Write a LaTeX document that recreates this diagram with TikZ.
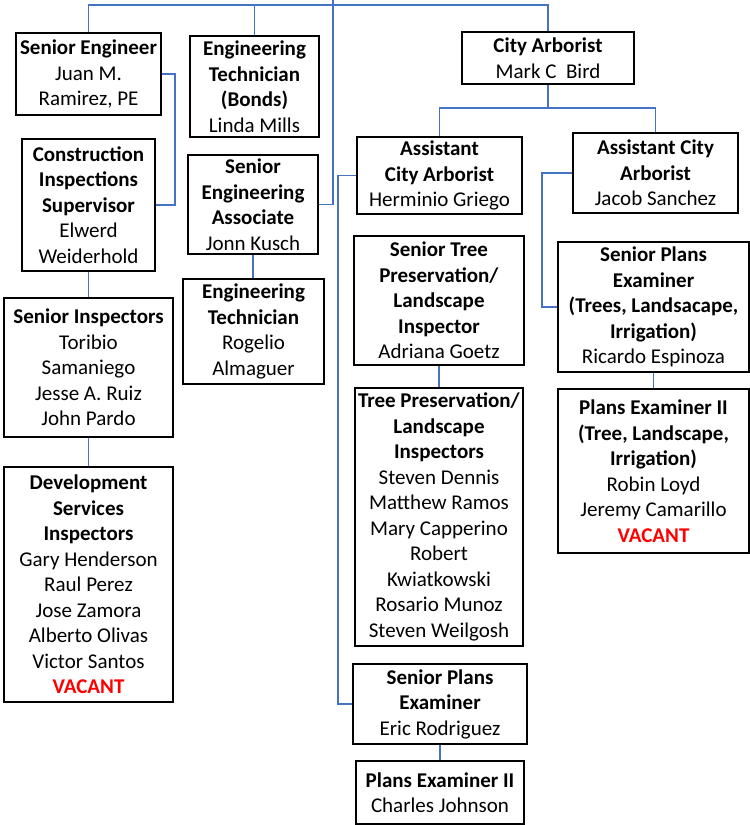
\documentclass[tikz,border=0pt]{standalone}
\usepackage{fontspec}
\setmainfont{Carlito}
\definecolor{linkblue}{RGB}{68,114,196}
\definecolor{vacred}{RGB}{255,0,0}
\newcommand\vacanttext{{\color{vacred}\textbf{VACANT}}}
\begin{document}
\begin{tikzpicture}[x=1bp,y=-1bp,
  box/.style={draw=black,line width=1.8bp,inner sep=0pt,align=center,
    font=\fontsize{21bp}{25.5bp}\selectfont},
  link/.style={draw=linkblue,line width=1.6bp},
]
\useasboundingbox (0,0) rectangle (750,825);
% left column
\node[box,minimum width=145bp,minimum height=82bp] (se) at (88.5,74)
  {\textbf{Senior Engineer}\\Juan M.\\Ramirez, PE};
\node[box,minimum width=133bp,minimum height=132bp] (cis) at (88.5,205)
  {\textbf{Construction}\\\textbf{Inspections}\\\textbf{Supervisor}\\Elwerd\\Weiderhold};
\node[box,minimum width=169bp,minimum height=139bp] (si) at (88.5,367.5)
  {\textbf{Senior Inspectors}\\Toribio\\Samaniego\\Jesse A. Ruiz\\John Pardo};
\node[box,minimum width=169bp,minimum height=235bp] (dsi) at (88.5,584.5)
  {\textbf{Development}\\\textbf{Services}\\\textbf{Inspectors}\\Gary Henderson\\Raul Perez\\Jose Zamora\\Alberto Olivas\\Victor Santos\\\vacanttext};
% second column
\node[box,minimum width=129bp,minimum height=101bp] (etb) at (254.5,86.5)
  {\textbf{Engineering}\\\textbf{Technician}\\\textbf{(Bonds)}\\Linda Mills};
\node[box,minimum width=130bp,minimum height=99bp] (sea) at (253,204.5)
  {\textbf{Senior}\\\textbf{Engineering}\\\textbf{Associate}\\Jonn Kusch};
\node[box,minimum width=141bp,minimum height=105bp] (etr) at (253.5,331.5)
  {\textbf{Engineering}\\\textbf{Technician}\\Rogelio\\Almaguer};
% arborist
\node[box,minimum width=172bp,minimum height=52bp] (ca) at (548,58)
  {\textbf{City Arborist}\\Mark C\ \ Bird};
\node[box,minimum width=165bp,minimum height=77bp] (aca1) at (439.5,175.5)
  {\textbf{Assistant}\\\textbf{City Arborist}\\Herminio Griego};
\node[box,minimum width=165bp,minimum height=80bp] (aca2) at (655.5,173)
  {\textbf{Assistant City}\\\textbf{Arborist}\\Jacob Sanchez};
\node[box,minimum width=170bp,minimum height=129bp] (stp) at (439,300.5)
  {\textbf{Senior Tree}\\\textbf{Preservation/}\\\textbf{Landscape}\\\textbf{Inspector}\\Adriana Goetz};
\node[box,minimum width=168bp,minimum height=258bp] (tpi) at (439,517)
  {\textbf{Tree Preservation/}\\\textbf{Landscape}\\\textbf{Inspectors}\\Steven Dennis\\Matthew Ramos\\Mary Capperino\\Robert\\Kwiatkowski\\Rosario Munoz\\Steven Weilgosh};
\node[box,minimum width=191bp,minimum height=130bp] (spe1) at (653.5,307)
  {\textbf{Senior Plans}\\\textbf{Examiner}\\\textbf{(Trees, Landsacape,}\\\textbf{Irrigation)}\\Ricardo Espinoza};
\node[box,minimum width=191bp,minimum height=164bp] (pe2a) at (653.5,471)
  {\textbf{Plans Examiner II}\\\textbf{(Tree, Landscape,}\\\textbf{Irrigation)}\\Robin Loyd\\Jeremy Camarillo\\\vacanttext};
\node[box,minimum width=174bp,minimum height=80bp] (spe2) at (440,704)
  {\textbf{Senior Plans}\\\textbf{Examiner}\\Eric Rodriguez};
\node[box,minimum width=168bp,minimum height=63bp] (pe2b) at (440,792.5)
  {\textbf{Plans Examiner II}\\Charles Johnson};
% connectors
\coordinate (root) at (333,0);
\coordinate (bus) at (333,5);
\coordinate (cab) at (548,108);
\draw[link] (sea.east) -| (root);
\draw[link] (se.north) |- (bus) -| (ca.north);
\draw[link] (etb.north) -- (etb.north |- bus);
\draw[link] (se.east) -- ++(13,0) |- (cis.east);
\draw[link] (cis.south) -- (cis.south |- si.north);
\draw[link] (si.south) -- (dsi.north);
\draw[link] (sea.south) -- (sea.south |- etr.north);
\draw[link] (ca.south) -- (cab);
\draw[link] (aca1.north) |- (cab) -| (aca2.north);
\draw[link] (aca1.west) -- ++(-18,0) |- (spe2.west);
\draw[link] (aca2.west) -- ++(-30,0) |- (spe1.west);
\draw[link] (stp.south) -- (stp.south |- tpi.north);
\draw[link] (spe1.south) -- (pe2a.north);
\draw[link] (spe2.south) -- (pe2b.north);
\end{tikzpicture}
\end{document}
